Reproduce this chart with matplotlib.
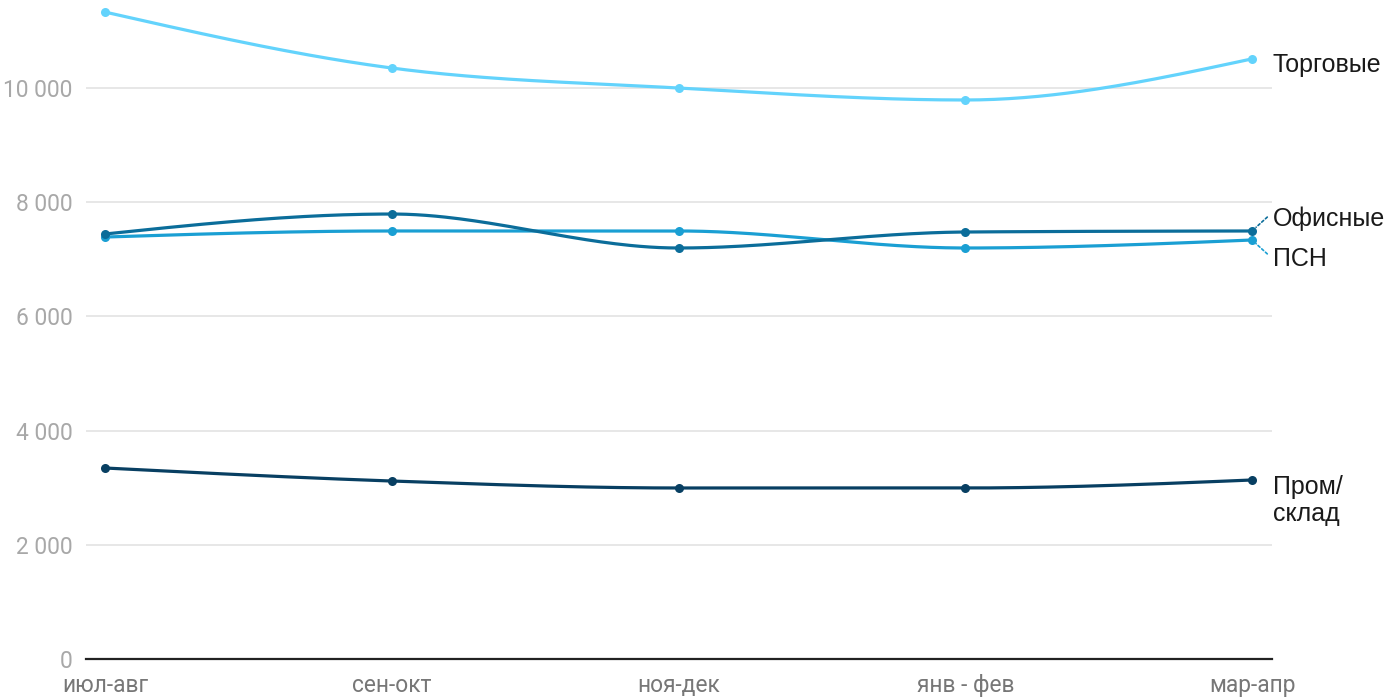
import numpy as np
import matplotlib
matplotlib.use("Agg")
import matplotlib.pyplot as plt
from matplotlib.ticker import FuncFormatter

categories = ["июл-авг", "сен-окт", "ноя-дек", "янв - фев", "мар-апр"]
trade = [11330, 10350, 10000, 9790, 10510]
office = [7443, 7793, 7198, 7478, 7496]
psn = [7390, 7496, 7496, 7198, 7338]
industrial = [3345, 3117, 2995, 2995, 3135]

series = [
    ("Торговые", trade, "#63d3fc"),
    ("ПСН", psn, "#1a9fd3"),
    ("Офисные", office, "#0b6d9a"),
    ("Пром/\nсклад", industrial, "#083f62"),
]


def monotone_x(x, y, n=60):
    x = np.asarray(x, float); y = np.asarray(y, float)
    h = np.diff(x); s = np.diff(y) / h
    m = np.zeros_like(y)
    for i in range(1, len(y) - 1):
        if s[i - 1] * s[i] <= 0:
            m[i] = 0
        else:
            p = (s[i - 1] * h[i] + s[i] * h[i - 1]) / (h[i - 1] + h[i])
            m[i] = (np.sign(s[i - 1]) + np.sign(s[i])) * min(abs(s[i - 1]), abs(s[i]), 0.5 * abs(p))
    m[0] = (3 * s[0] - m[1]) / 2 if len(y) > 2 else s[0]
    m[-1] = (3 * s[-1] - m[-2]) / 2 if len(y) > 2 else s[-1]
    xs, ys = [], []
    for i in range(len(h)):
        t = np.linspace(0, 1, n)
        h00 = 2 * t**3 - 3 * t**2 + 1
        h10 = t**3 - 2 * t**2 + t
        h01 = -2 * t**3 + 3 * t**2
        h11 = t**3 - t**2
        xs.append(x[i] + t * h[i])
        ys.append(h00 * y[i] + h10 * h[i] * m[i] + h01 * y[i + 1] + h11 * h[i] * m[i + 1])
    return np.concatenate(xs), np.concatenate(ys)


plt.rcParams['font.family'] = ['Roboto', 'DejaVu Sans']
fig = plt.figure(figsize=(14, 7), dpi=100)
W, H = 1400, 700
left, right, bottom, top = 86, 1272, 659, 2.35
ax = fig.add_axes([left / W, (H - bottom) / H, (right - left) / W, (bottom - top) / H])

x = np.arange(len(categories))
ax.set_xlim(-19 / 286.75, 4 + 20 / 286.75)
ax.set_ylim(0, 11500)

for name, vals, col in series:
    xs, ys = monotone_x(x, vals)
    ax.plot(xs, ys, color=col, lw=2.3, solid_capstyle='round', zorder=3)
    ax.plot(x, vals, 'o', color=col, ms=6.5, zorder=4, mec='none')

ax.set_yticks([0, 2000, 4000, 6000, 8000, 10000])
ax.yaxis.set_major_formatter(FuncFormatter(lambda v, p: f"{int(v):,}".replace(",", " ")))
ax.grid(axis='y', color='#e3e3e3', lw=1.2, zorder=0)
ax.set_axisbelow(True)
for s in ['top', 'right', 'left']:
    ax.spines[s].set_visible(False)
ax.spines['bottom'].set_color('#222222')
ax.spines['bottom'].set_linewidth(1.6)
ax.spines['bottom'].set_zorder(5)
ax.tick_params(axis='y', length=0, pad=9.5, labelsize=16.4, labelcolor='#a8a8a8')
ax.tick_params(axis='x', length=0, pad=11, labelsize=16.4, labelcolor='#777777')
ax.set_xticks(x)
ax.set_xticklabels(categories)

lab_font = dict(fontsize=18, color='#1a1a1a', family=['Liberation Sans', 'DejaVu Sans'], va='center', ha='left')
last = len(categories) - 1
ax.annotate("Торговые", (last, trade[-1]), xytext=(15, -4.5), textcoords='offset points', **lab_font)
ax.annotate("Офисные", (last, office[-1]), xytext=(15, 8.5), textcoords='offset points', **lab_font)
ax.annotate("ПСН", (last, psn[-1]), xytext=(15, -13.5), textcoords='offset points', **lab_font)
ax.annotate("Пром/\nсклад", (last, industrial[-1]), xytext=(15, -14.5), textcoords='offset points',
            linespacing=1.15, annotation_clip=False, **lab_font)
# dotted connectors
ax.annotate("", (last, office[-1]), xytext=(11, 10), textcoords='offset points',
            arrowprops=dict(arrowstyle='-', color='#0b6d9a', lw=1.2, ls=(0, (1.5, 1.5)), shrinkA=0, shrinkB=4))
ax.annotate("", (last, psn[-1]), xytext=(11, -10), textcoords='offset points',
            arrowprops=dict(arrowstyle='-', color='#1a9fd3', lw=1.2, ls=(0, (1.5, 1.5)), shrinkA=0, shrinkB=4))

fig.savefig("out.png", dpi=100)
